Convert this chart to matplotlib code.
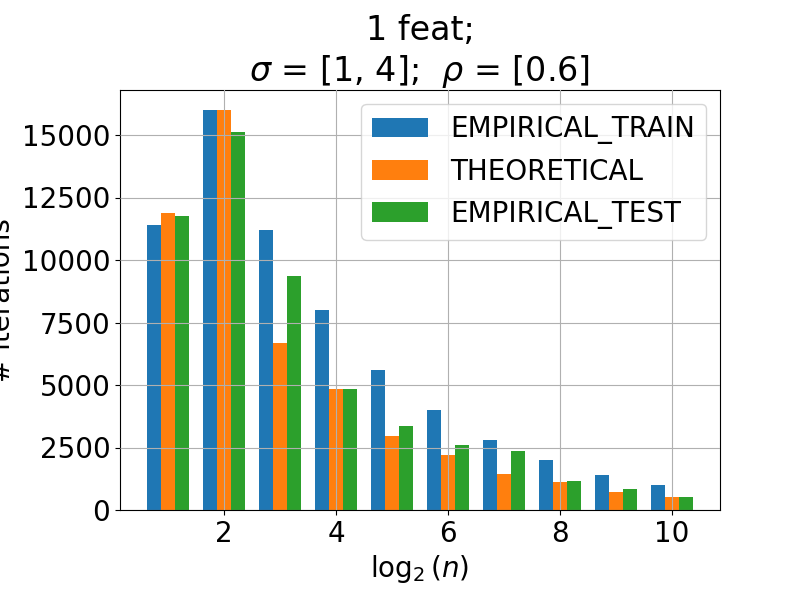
import numpy as np
import matplotlib.pyplot as plt

plt.rcParams['font.size'] = 20

# log2(n) values
log_n = [1, 2, 3, 4, 5, 6, 7, 8, 9, 10]

empirical_train = [11400, 16000, 11200, 8000, 5600, 4000, 2800, 2000, 1400, 1000]
theoretical = [11880, 16000, 6680, 4840, 2960, 2200, 1440, 1120, 720, 520]
empirical_test = [11760, 15120, 9360, 4840, 3360, 2600, 2360, 1160, 840, 520]

WIDTH = 0.25

fig, ax = plt.subplots(figsize=(8, 6), dpi=100)
x = np.array(log_n)
ax.bar(x - WIDTH, empirical_train, WIDTH, label='EMPIRICAL_TRAIN')
ax.bar(x, theoretical, WIDTH, label='THEORETICAL')
ax.bar(x + WIDTH, empirical_test, WIDTH, label='EMPIRICAL_TEST')

ax.set_title('1 feat;\n$\\sigma$ = [1, 4];  $\\rho$ = [0.6]')
ax.set_xlabel('$\\log_2(n)$')
ax.set_ylabel('# iterations')
ax.grid(True)
ax.set_axisbelow(False)
ax.legend(loc='upper right')

plt.subplots_adjust(left=0.15, right=0.9, bottom=0.15, top=0.85)
plt.savefig('out.png')
